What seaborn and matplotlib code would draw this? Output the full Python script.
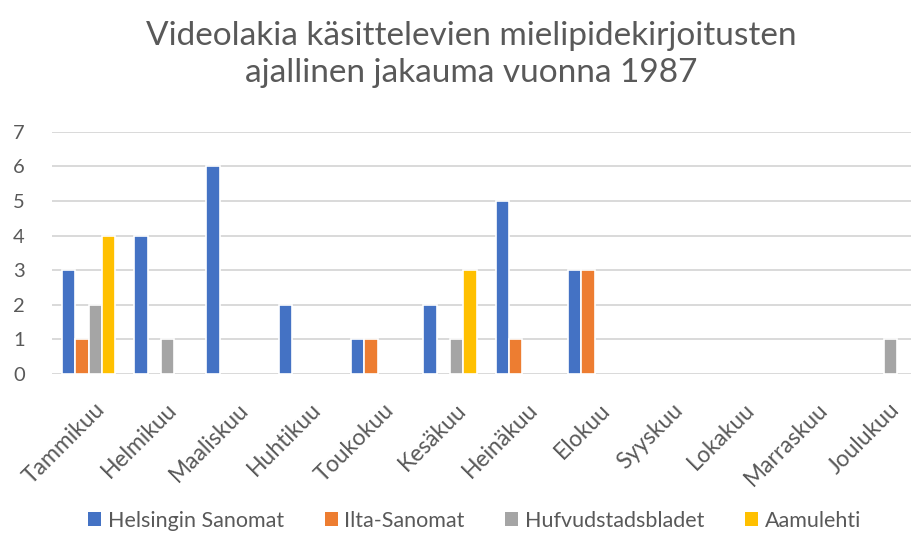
import matplotlib
matplotlib.use("Agg")
import matplotlib.pyplot as plt
import matplotlib.transforms as mtransforms
from matplotlib.patches import Patch
import seaborn as sns
import pandas as pd

# kuukaudet ja lehtien kirjoitusmäärät
months = ["Tammikuu", "Helmikuu", "Maaliskuu", "Huhtikuu", "Toukokuu", "Kesäkuu",
          "Heinäkuu", "Elokuu", "Syyskuu", "Lokakuu", "Marraskuu", "Joulukuu"]
papers = ["Helsingin Sanomat", "Ilta-Sanomat", "Hufvudstadsbladet", "Aamulehti"]
hs = [3, 4, 6, 2, 1, 2, 5, 3, 0, 0, 0, 0]
il = [1, 0, 0, 0, 1, 0, 1, 3, 0, 0, 0, 0]
hbl = [2, 1, 0, 0, 0, 1, 0, 0, 0, 0, 0, 1]
al = [4, 0, 0, 0, 0, 3, 0, 0, 0, 0, 0, 0]
colors = ["#4472C4", "#ED7D31", "#A5A5A5", "#FFC000"]
title = "Videolakia käsittelevien mielipidekirjoitusten\najallinen jakauma vuonna 1987"

rows = []
for paper, vals in zip(papers, [hs, il, hbl, al]):
    for m, v in zip(months, vals):
        rows.append({"kuukausi": m, "lehti": paper, "maara": v})
df = pd.DataFrame(rows)

sns.set_theme(style="white")
plt.rcParams["font.family"] = ["Lato", "DejaVu Sans"]
text_col = "#595959"

fig = plt.figure(figsize=(9.11, 5.34), dpi=100)
ax = fig.add_axes([0.0576, 0.2996, 0.9523, 0.4537])

sns.barplot(data=df, x="kuukausi", y="maara", hue="lehti", order=months,
            hue_order=papers, palette=colors, saturation=1, width=0.74,
            edgecolor="white", linewidth=1.2, legend=False, ax=ax)
for p in ax.patches:
    if p.get_height() == 0:
        p.set_linewidth(0)

ax.set_xlim(-0.5, 11.5)
ax.set_ylim(0, 7)
ax.set_yticks(range(8))
ax.set_axisbelow(True)
ax.yaxis.grid(True, color="#d9d9d9", linewidth=1.4)
ax.xaxis.grid(False)
sns.despine(ax=ax, left=True, bottom=True)
ax.tick_params(axis="both", length=0, colors=text_col)
ax.tick_params(axis="y", pad=20, labelsize=14.5)
ax.tick_params(axis="x", pad=18, labelsize=16.5)
ax.set_xlabel("")
ax.set_ylabel("")
shift = mtransforms.ScaledTranslation(5 / 100, 0, fig.dpi_scale_trans)
for lbl in ax.get_xticklabels():
    lbl.set_rotation(45)
    lbl.set_ha("right")
    lbl.set_rotation_mode("anchor")
    lbl.set_transform(lbl.get_transform() + shift)

fig.text(0.517, 0.898, title, ha="center", va="center", fontsize=24,
         color=text_col, linespacing=1.3)

handles = [Patch(facecolor=c, edgecolor="none") for c in colors]
fig.legend(handles, papers, loc="center", bbox_to_anchor=(0.521, 0.025), ncol=4,
           frameon=False, fontsize=15.5, labelcolor=text_col, handlelength=0.6,
           handleheight=0.6, handletextpad=0.3, columnspacing=1.9)

fig.savefig("out.png", dpi=100)
